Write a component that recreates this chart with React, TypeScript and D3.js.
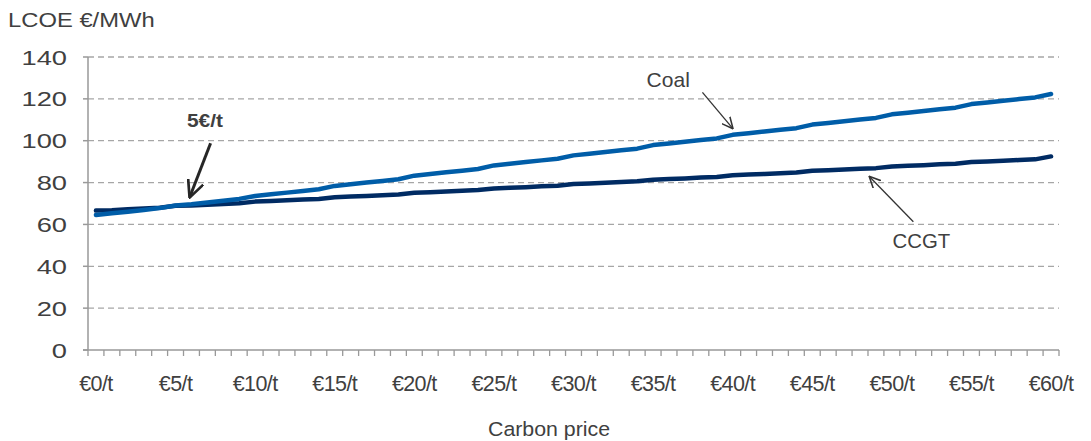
import { useRef, useEffect } from 'react';
import * as d3 from 'd3';

// carbon price categories, €/t
const prices = d3.range(0, 61);
const tickLabels = ['€0/t', '€5/t', '€10/t', '€15/t', '€20/t', '€25/t', '€30/t', '€35/t', '€40/t', '€45/t', '€50/t', '€55/t', '€60/t'];
const yTicks = [0, 20, 40, 60, 80, 100, 120, 140];

const coal = [
  64.5, 65.3, 66.1, 66.9, 67.8, 69.0, 69.6, 70.5, 71.3, 72.2,
  73.6, 74.4, 75.2, 76.0, 76.8, 78.4, 79.2, 80.0, 80.8, 81.6,
  83.3, 84.1, 84.9, 85.7, 86.5, 88.2, 89.0, 89.8, 90.6, 91.4,
  93.0, 93.8, 94.6, 95.4, 96.2, 97.9, 98.7, 99.5, 100.3, 101.1,
  102.8, 103.6, 104.4, 105.2, 106.0, 107.7, 108.5, 109.3, 110.1, 110.9,
  112.6, 113.4, 114.2, 115.0, 115.8, 117.5, 118.3, 119.1, 119.9, 120.7,
  122.3,
];
const ccgt = [
  66.6, 66.8, 67.3, 67.6, 68.0, 68.9, 69.1, 69.4, 69.8, 70.1,
  70.9, 71.2, 71.5, 71.9, 72.2, 73.0, 73.3, 73.6, 74.0, 74.3,
  75.1, 75.4, 75.7, 76.1, 76.4, 77.2, 77.5, 77.8, 78.2, 78.5,
  79.3, 79.6, 79.9, 80.3, 80.6, 81.4, 81.7, 82.0, 82.4, 82.7,
  83.5, 83.8, 84.1, 84.5, 84.8, 85.6, 85.9, 86.2, 86.6, 86.9,
  87.7, 88.0, 88.3, 88.7, 89.0, 89.8, 90.1, 90.4, 90.8, 91.1,
  92.5,
];

const W = 1091, H = 441;
const margin = { top: 57, right: 32, bottom: 91, left: 88 };

export default function App() {
  const svgRef = useRef<SVGSVGElement>(null);

  useEffect(() => {
    const svg = d3.select(svgRef.current);
    svg.selectAll('*').remove();

    const w = W - margin.left - margin.right;
    const h = H - margin.top - margin.bottom;
    const font = 'Arial, "Liberation Sans", sans-serif';
    const textColor = '#404040';
    const axisColor = '#999999';

    const defs = svg.append('defs');
    const marker = (id: string, size: number, sw: number, color: string) =>
      defs.append('marker')
        .attr('id', id)
        .attr('viewBox', '0 0 10 10')
        .attr('refX', 9).attr('refY', 5)
        .attr('markerWidth', size).attr('markerHeight', size)
        .attr('markerUnits', 'userSpaceOnUse')
        .attr('orient', 'auto')
        .append('path')
        .attr('d', 'M0,0.5 L9.5,5 L0,9.5')
        .attr('fill', 'none')
        .attr('stroke', color)
        .attr('stroke-width', sw);
    marker('open-arrow', 12, 1.3, '#333');
    marker('bold-arrow', 18, 1.5, '#262626');

    const g = svg.append('g').attr('transform', `translate(${margin.left},${margin.top})`);

    const band = d3.scaleBand<number>().domain(prices).range([0, w]).padding(0);
    // continuous position for category centres (and annotations in between)
    const x = d3.scaleLinear().domain([-0.5, prices.length - 0.5]).range([0, w]);
    const y = d3.scaleLinear().domain([0, 140]).range([h, 0]);

    // stretched text helper
    const label = (
      parent: d3.Selection<SVGGElement, unknown, null, undefined>,
      tx: number, ty: number, txt: string, size: number, sx: number,
      anchor: string, weight = 'normal',
    ) =>
      parent.append('text')
        .attr('transform', `translate(${tx},${ty}) scale(${sx},1)`)
        .attr('text-anchor', anchor)
        .attr('fill', textColor)
        .style('font-family', font)
        .style('font-size', `${size}px`)
        .style('font-weight', weight)
        .text(txt);

    // gridlines
    g.selectAll('line.grid')
      .data(yTicks.filter(t => t > 0))
      .join('line')
      .attr('class', 'grid')
      .attr('x1', 0).attr('x2', w)
      .attr('y1', d => y(d)).attr('y2', d => y(d))
      .attr('stroke', '#a6a6a6')
      .attr('stroke-width', 1.3)
      .attr('stroke-dasharray', '6,4');

    // y axis
    g.append('line')
      .attr('x1', 0).attr('x2', 0).attr('y1', 0).attr('y2', h)
      .attr('stroke', axisColor).attr('stroke-width', 1.5);
    g.selectAll('line.ytick')
      .data(yTicks)
      .join('line')
      .attr('class', 'ytick')
      .attr('x1', -5).attr('x2', 0)
      .attr('y1', d => y(d)).attr('y2', d => y(d))
      .attr('stroke', axisColor).attr('stroke-width', 1.5);
    const yl = g.append('g');
    yTicks.forEach(t => {
      label(yl, -21, y(t) + 7.5, String(t), 21, 1.3, 'end');
    });

    // x axis
    g.append('line')
      .attr('x1', -5).attr('x2', w)
      .attr('y1', h).attr('y2', h)
      .attr('stroke', axisColor).attr('stroke-width', 1.5);
    g.selectAll('line.xtick')
      .data([...prices, prices.length])
      .join('line')
      .attr('class', 'xtick')
      .attr('x1', (_, i) => i * band.bandwidth())
      .attr('x2', (_, i) => i * band.bandwidth())
      .attr('y1', h).attr('y2', h + 6)
      .attr('stroke', axisColor).attr('stroke-width', 1.3);
    g.selectAll('text.xlabel')
      .data(tickLabels)
      .join('text')
      .attr('class', 'xlabel')
      .attr('x', (_, i) => x(i * 5))
      .attr('y', h + 41)
      .attr('text-anchor', 'middle')
      .attr('fill', textColor)
      .style('font-family', font)
      .style('font-size', '21.5px')
      .style('letter-spacing', '-0.6px')
      .text(d => d);

    // series
    const line = d3.line<number>()
      .x((_, i) => x(prices[i]))
      .y(d => y(d));

    g.append('path')
      .datum(ccgt)
      .attr('d', line)
      .attr('fill', 'none')
      .attr('stroke', '#002B63')
      .attr('stroke-width', 4.5)
      .attr('stroke-linecap', 'round')
      .attr('stroke-linejoin', 'round');

    g.append('path')
      .datum(coal)
      .attr('d', line)
      .attr('fill', 'none')
      .attr('stroke', '#005DA8')
      .attr('stroke-width', 4.5)
      .attr('stroke-linecap', 'round')
      .attr('stroke-linejoin', 'round');

    // titles
    const root = svg.append('g') as unknown as d3.Selection<SVGGElement, unknown, null, undefined>;
    label(root, 8, 27, 'LCOE €/MWh', 19.5, 1.22, 'start');
    label(root, 549, 436, 'Carbon price', 20.5, 1.04, 'middle');

    // annotations
    const ann = g.append('g');
    label(ann, x(35.95), y(125.8), 'Coal', 21, 1.0, 'middle');
    ann.append('line')
      .attr('x1', x(38.1)).attr('y1', y(123.1))
      .attr('x2', x(40.0)).attr('y2', y(105.9))
      .attr('stroke', '#333').attr('stroke-width', 1.3)
      .attr('marker-end', 'url(#open-arrow)');

    label(ann, x(51.85), y(48.7), 'CCGT', 21, 0.97, 'middle');
    ann.append('line')
      .attr('x1', x(51.35)).attr('y1', y(61.3))
      .attr('x2', x(48.6)).attr('y2', y(82.8))
      .attr('stroke', '#333').attr('stroke-width', 1.3)
      .attr('marker-end', 'url(#open-arrow)');

    label(ann, x(6.85), y(106.7), '5€/t', 19, 1.1, 'middle', 'bold');
    ann.append('line')
      .attr('x1', x(7.2)).attr('y1', y(98.8))
      .attr('x2', x(5.9)).attr('y2', y(73.2))
      .attr('stroke', '#262626').attr('stroke-width', 3)
      .attr('marker-end', 'url(#bold-arrow)');
  }, []);

  return (
    <div style={{ position: 'absolute', left: 0, top: 0 }}>
      <svg ref={svgRef} width={W} height={H} style={{ display: 'block', background: '#fff' }} />
    </div>
  );
}
